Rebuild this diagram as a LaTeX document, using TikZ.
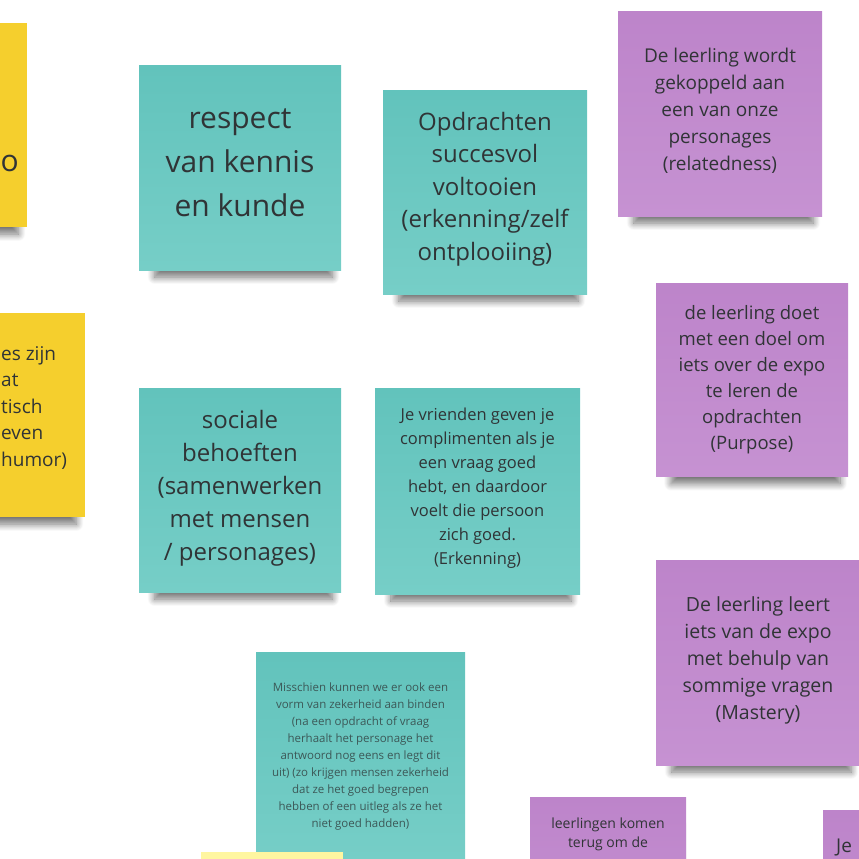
\documentclass[tikz,border=0pt]{standalone}
\usepackage{fontspec}
\setmainfont{Open Sans}
\usetikzlibrary{shadows.blur}
\definecolor{noteteal}{RGB}{98,195,188}
\definecolor{noteteallight}{RGB}{118,206,199}
\definecolor{notepurple}{RGB}{189,132,202}
\definecolor{notepurplelight}{RGB}{198,146,210}
\definecolor{noteyellow}{RGB}{245,207,45}
\definecolor{notepale}{RGB}{255,246,160}
\definecolor{notetext}{RGB}{48,52,54}
\newcommand{\diep}[1]{\rule[-#1]{0pt}{0pt}}

\begin{document}
\begin{tikzpicture}[x=1pt, y=-1pt,
        note/.style={minimum width=204pt, minimum height=204pt, inner sep=0pt, align=center, text=notetext,
            blur shadow={shadow xshift=4pt, shadow yshift=-22pt, shadow scale=0.88, shadow opacity=55, shadow blur radius=8pt, shadow blur steps=12}},
        teal/.style={note, top color=noteteal, bottom color=noteteallight},
        paars/.style={note, top color=notepurple, bottom color=notepurplelight},
        geel/.style={note, fill=noteyellow},
        tekst/.style={align=center, text=notetext, inner sep=0pt}
    ]
        \useasboundingbox (0,0) rectangle (859,859);
        \clip (0,0) rectangle (859,859);

        % gele notities links, half buiten beeld
        \node[geel, minimum width=202pt] (geel1) at (-74,125) {};
        \node[tekst, anchor=west, font=\fontsize{30}{44}\selectfont] (geel1tekst) at (0.5,163) {o};
        \node[geel, minimum width=202pt] (geel2) at (-16,415) {};
        \node[tekst, anchor=west, align=left, font=\fontsize{19}{26.5}\selectfont] (geel2tekst) at (1,408) {es zijn\\at\\tisch\\even\\humor)};

        % groene notities
        \node[teal, minimum width=202pt, font=\fontsize{30}{44}\selectfont] (respect) at (240,168) {respect\\van kennis\\en kunde\diep{10pt}};
        \node[teal, font=\fontsize{24}{32.5}\selectfont] (opdrachten) at (485,192) {Opdrachten\\succesvol\\voltooien\\(erkenning/zelf\\ontplooiing)\diep{12pt}};
        \node[teal, minimum width=202pt, font=\fontsize{24}{33}\selectfont] (sociaal) at (240,490) {sociale\\behoeften\\(samenwerken\\met mensen\\/ personages)\diep{9pt}};
        \node[teal, minimum width=205pt, minimum height=206pt, font=\fontsize{16.5}{24}\selectfont] (erkenning) at (477.5,491) {Je vrienden geven je\\complimenten als je\\een vraag goed\\hebt, en daardoor\\voelt die persoon\\zich goed.\\(Erkenning)\diep{10pt}};
        \node[teal, minimum width=209pt, minimum height=209pt, font=\fontsize{11.5}{17}\selectfont, text=notetext!75!noteteal] (zekerheid) at (360.5,756.5) {Misschien kunnen we er ook een\\vorm van zekerheid aan binden\\(na een opdracht of vraag\\herhaalt het personage het\\antwoord nog eens en legt dit\\uit) (zo krijgen mensen zekerheid\\dat ze het goed begrepen\\hebben of een uitleg als ze het\\niet goed hadden)};
        \node[note, fill=notepale, minimum width=142pt, minimum height=142pt] (lichtgeel) at (272,923) {};

        % paarse notities
        \node[paars, font=\fontsize{19}{27}\selectfont] (relatedness) at (720,114) {De leerling wordt\\gekoppeld aan\\een van onze\\personages\\(relatedness)\diep{10pt}};
        \node[paars, minimum width=192pt, minimum height=193pt, font=\fontsize{18.5}{26}\selectfont] (purpose) at (752,379.5) {de leerling doet\\met een doel om\\iets over de expo\\te leren de\\opdrachten\\(Purpose)\diep{5pt}};
        \node[paars, minimum height=205pt, font=\fontsize{19.5}{27}\selectfont] (mastery) at (758,662.5) {De leerling leert\\iets van de expo\\met behulp van\\sommige vragen\\(Mastery)\diep{9pt}};
        \node[paars, minimum width=156pt, minimum height=156pt] (terugkomen) at (608,875) {};
        \node[tekst, anchor=north, font=\fontsize{14}{19}\selectfont] (terugkomentekst) at (608,818) {leerlingen komen\\terug om de};
        \node[paars] (je) at (925,912) {};
        \node[tekst, anchor=west, font=\fontsize{19}{26}\selectfont] (jetekst) at (836,847) {Je};
    \end{tikzpicture}
\end{document}
